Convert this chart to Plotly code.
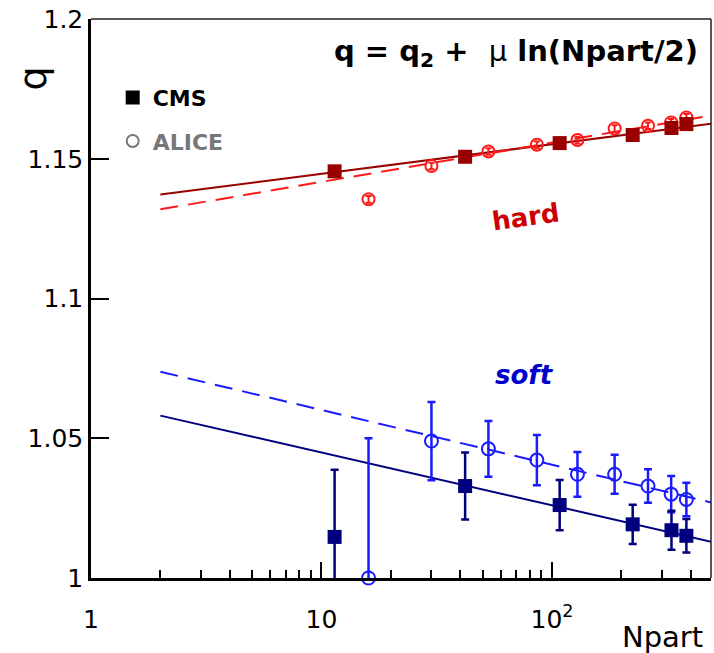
import numpy as np
import plotly.graph_objects as go

# ---------------- data ----------------
cms_npart = [11.4, 42, 108, 224, 330, 383]
cms_hard_q = [1.1455, 1.1507, 1.1556, 1.1585, 1.1610, 1.1624]
cms_soft_q = [1.0147, 1.0329, 1.0261, 1.0192, 1.0171, 1.0151]
cms_soft_err = [0.024, 0.012, 0.009, 0.007, 0.007, 0.006]

alice_npart = [16, 30, 53, 86, 129, 187, 261, 329, 383]
alice_hard_q = [1.1355, 1.1474, 1.1526, 1.1550, 1.1567, 1.1608, 1.1618, 1.1630, 1.1648]
alice_hard_err = [0.0012, 0.0012, 0.0012, 0.0012, 0.0012, 0.0012, 0.0012, 0.0012, 0.0012]
alice_soft_q = [1.000, 1.049, 1.0462, 1.0422, 1.0371, 1.0371, 1.0329, 1.0300, 1.0281]
alice_soft_err = [0.050, 0.014, 0.010, 0.009, 0.008, 0.007, 0.006, 0.0065, 0.006]

# fit parameters: q = q2 + mu ln(Npart/2)
fit_cms_hard = (1.1372, 0.0046)
fit_alice_hard = (1.1319, 0.0061)
fit_cms_soft = (1.0581, -0.0082)
fit_alice_soft = (1.0738, -0.0085)
fit_npart = np.array([2.0, 10.0, 100.0, 500.0])

x_tickvals = [1, 10, 100]
x_ticktext = ["1", "10", "10<sup>2</sup>"]
y_tickvals = [1.0, 1.05, 1.1, 1.15, 1.2]
y_ticktext = ["1", "1.05", "1.1", "1.15", "1.2"]

DARKRED = "#990000"
RED = "#ff1a1a"
NAVY = "#00007f"
BLUE = "#1a1aff"
FONT = "DejaVu Sans"
DASH = "18px,10px"


def fit(params):
    q2, mu = params
    return q2 + mu * np.log(fit_npart / 2.0)


fig = go.Figure()

# fit lines
fig.add_trace(go.Scatter(x=fit_npart, y=fit(fit_cms_hard), mode="lines",
                         line=dict(color=DARKRED, width=2), showlegend=False))
fig.add_trace(go.Scatter(x=fit_npart, y=fit(fit_alice_hard), mode="lines",
                         line=dict(color=RED, width=2, dash=DASH), showlegend=False))
fig.add_trace(go.Scatter(x=fit_npart, y=fit(fit_cms_soft), mode="lines",
                         line=dict(color=NAVY, width=2), showlegend=False))
fig.add_trace(go.Scatter(x=fit_npart, y=fit(fit_alice_soft), mode="lines",
                         line=dict(color=BLUE, width=2, dash=DASH), showlegend=False))

# data
fig.add_trace(go.Scatter(x=alice_npart, y=alice_hard_q, mode="markers",
                         marker=dict(symbol="circle-open", size=12, color=RED, line=dict(width=2)),
                         error_y=dict(type="data", array=alice_hard_err, color=RED, thickness=2, width=3),
                         showlegend=False))
fig.add_trace(go.Scatter(x=cms_npart, y=cms_hard_q, mode="markers",
                         marker=dict(symbol="square", size=14, color=DARKRED),
                         showlegend=False))
fig.add_trace(go.Scatter(x=alice_npart, y=alice_soft_q, mode="markers",
                         marker=dict(symbol="circle-open", size=13, color=BLUE, line=dict(width=2)),
                         error_y=dict(type="data", array=alice_soft_err, color=BLUE, thickness=2.5, width=4),
                         showlegend=False, cliponaxis=False))
fig.add_trace(go.Scatter(x=cms_npart, y=cms_soft_q, mode="markers",
                         marker=dict(symbol="square", size=14, color=NAVY),
                         error_y=dict(type="data", array=cms_soft_err, color=NAVY, thickness=2.5, width=4),
                         showlegend=False))

# legend entries
fig.add_trace(go.Scatter(x=[None], y=[None], mode="markers", name="<b>CMS</b>", legendgroup="a",
                         marker=dict(symbol="square", size=14, color="black")))
fig.add_trace(go.Scatter(x=[None], y=[None], mode="markers", legendgroup="b",
                         name="<b><span style='color:#777777'>ALICE</span></b>",
                         marker=dict(symbol="circle-open", size=12, color="#777777", line=dict(width=2))))

fig.add_annotation(x=0.982, xref="paper", xanchor="right", y=1.188, yref="y", yanchor="middle",
                   text="<b>q = q<sub>2</sub> +  </b>μ<b> ln(Npart/2)</b>", showarrow=False,
                   font=dict(family=FONT, size=29, color="black"))
fig.add_annotation(x=np.log10(77), y=1.1290, text="<b>hard</b>", showarrow=False, textangle=-8,
                   font=dict(family=FONT, size=26, color="#cc0000"))
fig.add_annotation(x=np.log10(76), y=1.0728, text="<b><i>soft</i></b>", showarrow=False,
                   font=dict(family=FONT, size=26, color="#0000cc"))
# axis titles
fig.add_annotation(x=0.99, xref="paper", xanchor="right", y=-0.106, yref="paper", yanchor="middle",
                   text="Npart", showarrow=False, font=dict(family=FONT, size=29, color="black"))
fig.add_annotation(x=-0.133, xref="paper", y=0.918, yref="paper", text="q", textangle=-90,
                   showarrow=False, font=dict(family=FONT, size=38, color="black"))

# frame top/right
fig.add_shape(type="line", xref="paper", yref="paper", x0=0, x1=1, y0=1, y1=1,
              line=dict(color="#222222", width=1.5))
fig.add_shape(type="line", xref="paper", yref="paper", x0=1, x1=1, y0=0, y1=1,
              line=dict(color="#222222", width=1.5))

fig.update_xaxes(type="log", range=[0, 2.69], tickvals=x_tickvals, ticktext=x_ticktext,
                 ticks="inside", ticklen=16, tickwidth=2, tickcolor="black",
                 showline=True, linecolor="black", linewidth=2.5, showgrid=False, zeroline=False,
                 tickfont=dict(family=FONT, size=25, color="black"), ticklabelstandoff=17,
                 minor=dict(ticks="inside", ticklen=8, tickwidth=2, tickcolor="black",
                            dtick="D1", showgrid=False))
fig.update_yaxes(range=[1.0, 1.2], tickvals=y_tickvals, ticktext=y_ticktext,
                 ticks="inside", ticklen=18, tickwidth=2, tickcolor="black",
                 showline=True, linecolor="black", linewidth=2.5, showgrid=False, zeroline=False,
                 tickfont=dict(family=FONT, size=25, color="black"))

fig.update_layout(width=714, height=653, margin=dict(l=91, r=3, t=19, b=75),
                  plot_bgcolor="white", paper_bgcolor="white",
                  legend=dict(x=0.035, y=0.897, xanchor="left", yanchor="top",
                              font=dict(family=FONT, size=22, color="black"),
                              bgcolor="rgba(0,0,0,0)", itemwidth=30, tracegroupgap=12),
                  font=dict(family=FONT))

fig.write_html("out.html")
